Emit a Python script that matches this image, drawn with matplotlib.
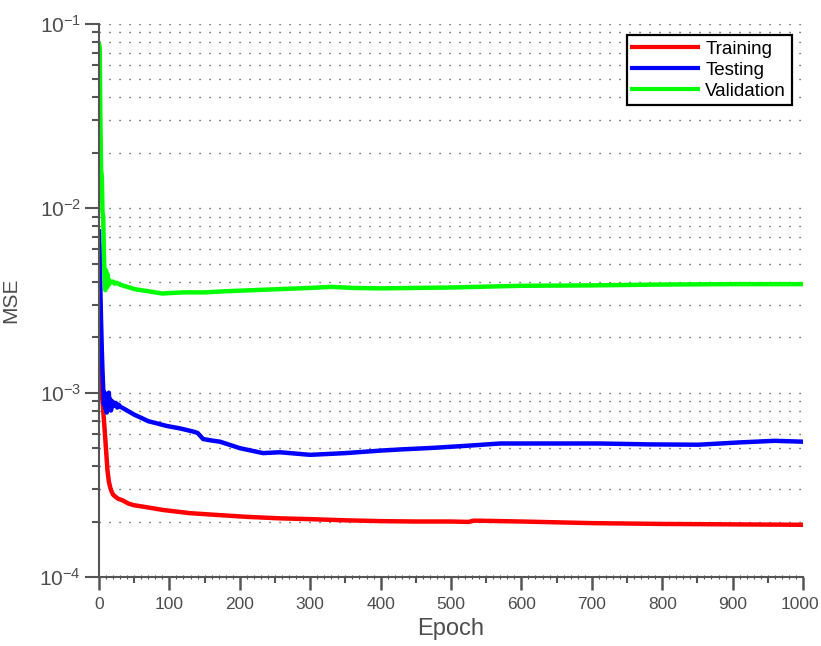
import matplotlib
matplotlib.use("Agg")
import matplotlib.pyplot as plt
import matplotlib.transforms as mtransforms
from matplotlib.ticker import LogLocator, MultipleLocator, FixedLocator, NullFormatter

plt.rcParams["font.family"] = ["Liberation Sans", "DejaVu Sans"]
plt.rcParams["mathtext.fontset"] = "custom"
plt.rcParams["mathtext.rm"] = "Liberation Sans"
plt.rcParams["mathtext.it"] = "Liberation Sans:italic"
plt.rcParams["mathtext.bf"] = "Liberation Sans:bold"
plt.rcParams["mathtext.default"] = "regular"

# ---- data ----
train_epochs = [0, 1, 2, 3, 4, 5, 6, 8, 10, 12, 14, 16, 18, 20, 22, 27, 34, 42, 50, 65, 91,
                129, 160, 210, 258, 300, 350, 400, 450, 500, 525, 532, 540, 600, 700, 800, 900, 1000]
train_mse = [4.0e-3, 1.15e-3, 1.05e-3, 1.0e-3, 9.5e-4, 9.0e-4, 8.0e-4, 6.3e-4, 4.9e-4, 3.8e-4,
             3.3e-4, 3.05e-4, 2.9e-4, 2.8e-4, 2.75e-4, 2.66e-4, 2.6e-4, 2.5e-4, 2.45e-4, 2.4e-4,
             2.31e-4, 2.22e-4, 2.18e-4, 2.12e-4, 2.08e-4, 2.06e-4, 2.03e-4, 2.01e-4, 2.0e-4,
             2.0e-4, 1.99e-4, 2.02e-4, 2.02e-4, 2.0e-4, 1.96e-4, 1.94e-4, 1.93e-4, 1.92e-4]

test_epochs = [0, 1, 2, 3, 4, 5, 6, 7, 8, 9, 10, 11, 12, 13, 14, 15, 16, 17, 18, 19, 20, 22, 24,
               26, 28, 30, 35, 40, 50, 60, 70, 80, 96, 115, 134, 140, 148, 160, 172, 200, 233,
               257, 300, 350, 400, 428, 475, 522, 570, 664, 711, 783, 852, 909, 960, 1000]
test_mse = [7.5e-3, 6.0e-3, 3.5e-3, 2.4e-3, 1.7e-3, 1.3e-3, 1.05e-3, 8.6e-4, 1.0e-3, 8.2e-4,
            9.6e-4, 7.8e-4, 9.4e-4, 8.5e-4, 1.0e-3, 8.3e-4, 9.2e-4, 8.0e-4, 9.0e-4, 8.4e-4,
            8.9e-4, 8.5e-4, 8.8e-4, 8.3e-4, 8.6e-4, 8.4e-4, 8.2e-4, 8.0e-4, 7.6e-4, 7.3e-4,
            7.0e-4, 6.85e-4, 6.6e-4, 6.4e-4, 6.15e-4, 6.05e-4, 5.6e-4, 5.5e-4, 5.42e-4, 5.0e-4,
            4.7e-4, 4.75e-4, 4.6e-4, 4.7e-4, 4.85e-4, 4.92e-4, 5.02e-4, 5.15e-4, 5.3e-4, 5.3e-4,
            5.3e-4, 5.24e-4, 5.22e-4, 5.37e-4, 5.48e-4, 5.42e-4]

val_epochs = [0, 1, 2, 3, 4, 5, 6, 7, 8, 9, 10, 11, 12, 13, 14, 15, 16, 18, 20, 22, 25, 30, 35,
              40, 50, 55, 70, 90, 100, 120, 150, 180, 220, 260, 300, 330, 360, 400, 450, 500,
              550, 600, 700, 800, 900, 1000]
val_mse = [7.8e-2, 7.5e-2, 3.0e-2, 1.6e-2, 1.5e-2, 9.5e-3, 9.0e-3, 5.5e-3, 4.2e-3, 3.6e-3,
           4.6e-3, 3.7e-3, 4.4e-3, 3.8e-3, 4.1e-3, 3.9e-3, 4.0e-3, 4.0e-3, 4.0e-3, 3.9e-3,
           3.95e-3, 3.85e-3, 3.8e-3, 3.75e-3, 3.65e-3, 3.62e-3, 3.55e-3, 3.45e-3, 3.47e-3,
           3.5e-3, 3.5e-3, 3.55e-3, 3.6e-3, 3.65e-3, 3.7e-3, 3.75e-3, 3.7e-3, 3.68e-3, 3.7e-3,
           3.72e-3, 3.76e-3, 3.8e-3, 3.82e-3, 3.86e-3, 3.88e-3, 3.88e-3]

series_labels = ["Training", "Testing", "Validation"]
series_colors = ["#ff0000", "#0000ff", "#00ff00"]
x_ticks = [0, 100, 200, 300, 400, 500, 600, 700, 800, 900, 1000]
mid_ticks = [50, 150, 250, 350, 450, 550, 650, 750, 850, 950]

axis_grey = "#555555"
text_grey = "#4d4d4d"

fig = plt.figure(figsize=(8.21, 6.46), dpi=100)
ax = fig.add_axes([99 / 821, 1 - 577 / 646, 704 / 821, 553 / 646])

for xs, ys, lab, col in zip([train_epochs, test_epochs, val_epochs],
                            [train_mse, test_mse, val_mse], series_labels, series_colors):
    ax.plot(xs, ys, color=col, lw=3.2, label=lab, solid_joinstyle="round")

ax.set_yscale("log")
ax.set_xlim(0, 1000)
ax.set_ylim(1e-4, 1e-1)

ax.xaxis.set_major_locator(FixedLocator(x_ticks))
ax.xaxis.set_minor_locator(MultipleLocator(10))
ax.yaxis.set_major_locator(LogLocator(base=10, numticks=10))
ax.yaxis.set_minor_locator(LogLocator(base=10, subs=range(2, 10), numticks=20))
ax.yaxis.set_minor_formatter(NullFormatter())

for s in ["top", "right"]:
    ax.spines[s].set_visible(False)
for s in ["left", "bottom"]:
    ax.spines[s].set_color(axis_grey)
    ax.spines[s].set_linewidth(1.5)

ax.tick_params(axis="y", which="major", direction="out", length=10, width=1.5,
               color=axis_grey, labelcolor=text_grey, labelsize=15, pad=3)
ax.tick_params(axis="y", which="minor", direction="out", length=5, width=1.5, color=axis_grey)
ax.tick_params(axis="x", which="major", direction="out", length=9.5, width=1.8,
               color=axis_grey, labelcolor=text_grey, labelsize=12.5, pad=5)
ax.tick_params(axis="x", which="minor", direction="inout", length=3, width=0.8, color=axis_grey)

sec = ax.secondary_xaxis("bottom")
sec.set_xticks(mid_ticks)
sec.set_xticklabels([])
sec.tick_params(direction="out", length=4.5, width=1.5, color=axis_grey)
sec.spines["bottom"].set_visible(False)

ax.yaxis.grid(True, which="both", linestyle=(0, (0.8, 6.4)), color="#333333", linewidth=1.0)
ax.xaxis.grid(False)

ax.set_xlabel("Epoch", fontsize=17, color=text_grey, labelpad=4)
ax.set_ylabel("MSE", fontsize=15, color=text_grey, labelpad=14)

# nudge the last x tick label so it stays inside the canvas
last_lbl = ax.xaxis.get_majorticklabels()[-1]
last_lbl.set_transform(last_lbl.get_transform() +
                       mtransforms.ScaledTranslation(-3 / 100, 0, fig.dpi_scale_trans))

leg = ax.legend(loc="upper right", fontsize=13.5, frameon=True, fancybox=False, framealpha=1,
                edgecolor="black", handlelength=3.5, handletextpad=0.4, labelspacing=0.2,
                borderpad=0.3, borderaxespad=0.6)
leg.get_frame().set_linewidth(1.6)
for line in leg.get_lines():
    line.set_linewidth(3)

fig.savefig("out.png", dpi=100)
